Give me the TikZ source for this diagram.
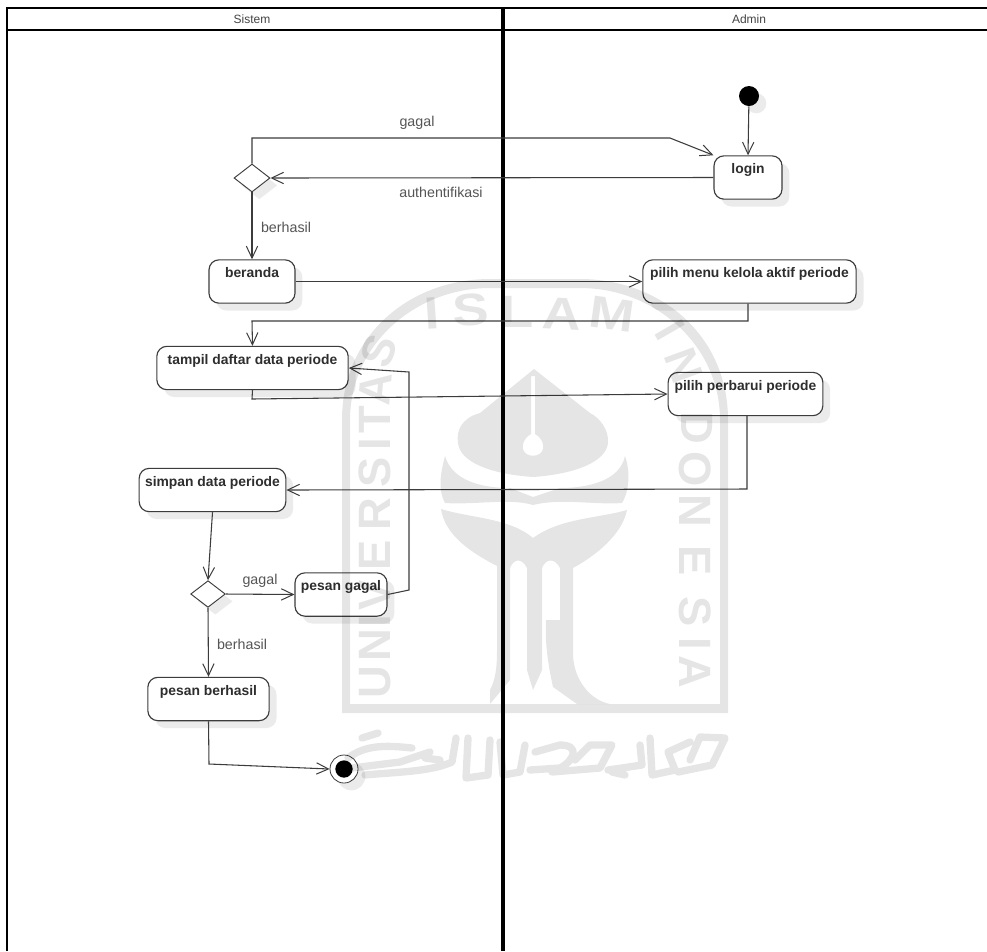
\documentclass[tikz,border=0pt]{standalone}
\usepackage{fontspec}
\setmainfont{Liberation Sans}
\usetikzlibrary{arrows.meta,shapes.geometric,shadows,calc}
\definecolor{edgec}{HTML}{3C3C3C}
\definecolor{labelc}{HTML}{555555}
\definecolor{boldc}{HTML}{2E2E2E}
\tikzset{
  softshadow/.style={drop shadow={shadow xshift=5.5pt,shadow yshift=-5.5pt,fill=black,opacity=.08}},
  act/.style={draw=edgec,line width=.85pt,fill=white,rectangle,rounded corners=7.5pt,softshadow,
    inner xsep=0pt,inner ysep=1pt,minimum height=32.5pt,text height=12.6pt,text depth=17.9pt,
    text=boldc,font=\fontsize{10.4}{12}\selectfont\bfseries},
  decision/.style={draw=edgec,line width=.7pt,fill=white,diamond,aspect=1.3,inner sep=0pt,softshadow},
  startdot/.style={circle,fill=black,inner sep=0pt,minimum size=15pt,softshadow},
  enddot/.style={circle,draw=edgec,line width=.6pt,fill=white,inner sep=0pt,minimum size=21pt,softshadow},
  flow/.style={draw=edgec,line width=.8pt,-{Straight Barb[length=9pt,width=8.5pt,line width=.75pt]}},
  flowlabel/.style={text=labelc,font=\fontsize{10.7}{12}\selectfont,inner sep=0pt},
  lanehead/.style={text=labelc!80!black,font=\fontsize{9}{10}\selectfont,inner sep=0pt},
  lane/.style={draw=black,line width=2pt},
  midlane/.style={draw=black,line width=2.6pt},
  wm/.style={fill=black,fill opacity=.1,draw=none},
  wmletter/.style={text=black,text opacity=.1,inner sep=0pt,font=\fontsize{34}{34}\selectfont\bfseries},
  wmstroke/.style={draw=black,draw opacity=.1,line width=5.5pt,line cap=round,line join=round}
}
\begin{document}
\begin{tikzpicture}[x=.75pt,y=-.75pt]
\useasboundingbox (0,0) rectangle (987,951);
\fill[white] (0,0) rectangle (987,951);

% swimlanes
\draw[lane] (7,951) -- (7,8) -- (987,8);
\draw[lane] (7,30) -- (987,30);
\draw[midlane] (503,8) -- (503,951);
\node[lanehead] (sistem) at (252,19) {Sistem};
\node[lanehead] (admin) at (749,19) {Admin};

% activities
\node[startdot] (start) at (749,96) {};
\node[act,minimum width=51pt] (login) at (748,177.5) {login};
\node[decision,minimum width=27pt,minimum height=21pt] (d1) at (252,178) {};
\node[act,minimum width=64.5pt] (beranda) at (252,281.5) {beranda};
\node[act,minimum width=160pt] (menu) at (749.5,281.5) {pilih menu kelola aktif periode};
\node[act,minimum width=143.5pt] (tampil) at (252.5,368) {tampil daftar data periode};
\node[act,minimum width=116pt] (perbarui) at (745.5,394) {pilih perbarui periode};
\node[act,minimum width=110pt] (simpan) at (212.5,490) {simpan data periode};
\node[act,minimum width=69pt] (pgagal) at (341,594.5) {pesan gagal};
\node[decision,minimum width=26pt,minimum height=20pt] (d2) at (208,594) {};
\node[act,minimum width=91pt] (pberhasil) at (208.5,699) {pesan berhasil};
\node[enddot] (stop) at (344,769) {};
\node[circle,fill=black,inner sep=0pt,minimum size=13pt] (stopdot) at (344,769) {};

% waypoints
\coordinate (w1) at (252,138);
\coordinate (w2) at (670,138);
\coordinate (w3) at (748,321);
\coordinate (w4) at (252,321);
\coordinate (w5) at (252,399);
\coordinate (w6) at (747,489);
\coordinate (w7) at (409,590);
\coordinate (w8) at (409,372);
\coordinate (w9) at (209,764);

% connectors
\draw[flow] (start) -- (login.north);
\draw[flow] (d1.north) -- (w1) -- (w2) -- (login.north west);
\draw[flow] (login.west) -- (d1.east);
\draw[flow] (d1.south) -- (beranda.north);
\draw[flow] (beranda.east) -- (menu.west);
\draw[flow] (menu.south -| w3) -- (w3) -- (w4) -- (tampil.north);
\draw[flow] (tampil.south) -- (w5) -- (perbarui.west);
\draw[flow] (perbarui.south -| w6) -- (w6) -- (simpan.east);
\draw[flow] (simpan.south) -- (d2.north);
\draw[flow] (d2.east) -- (pgagal.west);
\draw[flow] (pgagal.east) -- (w7) -- (w8) -- (tampil.east);
\draw[flow] (d2.south) -- (pberhasil.north);
\draw[flow] (pberhasil.south) -- (w9) -- (stop.west);

% connector labels
\node[flowlabel] (l1) at (417,123) {gagal};
\node[flowlabel] (l2) at (441,192) {authentifikasi};
\node[flowlabel] (l3) at (286,227) {berhasil};
\node[flowlabel] (l4) at (260,581) {gagal};
\node[flowlabel] (l5) at (242,644) {berhasil};

% watermark: arch frame
\path[wm,even odd rule]
  (342,713) -- (342,420) .. controls (342,335) and (410,279) .. (490,279)
  -- (580,279) .. controls (660,279) and (728,335) .. (728,420) -- (728,713) -- cycle
  (350,704) -- (350,420) .. controls (350,345) and (415,288) .. (490,288)
  -- (580,288) .. controls (655,288) and (720,345) .. (720,420) -- (720,704) -- cycle;

% watermark: emblem
\path[wm,even odd rule]
  (534,369) -- (480,413) .. controls (462,418) and (456,430) .. (458,443)
  .. controls (460,462) and (490,474) .. (533,477)
  .. controls (575,474) and (606,462) .. (608,443)
  .. controls (609,430) and (600,418) .. (590,413) -- cycle
  (531,376) -- (531,434) .. controls (524,438) and (522,444) .. (523,449)
  .. controls (525,458) and (541,458) .. (543,449)
  .. controls (544,444) and (542,438) .. (535,434) -- (535,376) -- cycle;
\path[wm]
  (445,456) .. controls (440,475) and (438,490) .. (445,503)
  .. controls (475,505) and (510,498) .. (533,505)
  .. controls (560,498) and (595,505) .. (622,503)
  .. controls (630,490) and (630,470) .. (625,456)
  .. controls (620,480) and (590,488) .. (560,488)
  -- (533,497) -- (510,488) .. controls (480,488) and (452,480) .. (445,456) -- cycle;
\path[wm]
  (441,509) .. controls (470,518) and (510,518) .. (533,538)
  .. controls (560,518) and (600,518) .. (627,510)
  .. controls (622,535) and (595,556) .. (573,568)
  -- (573,655) .. controls (574,680) and (590,700) .. (610,704)
  -- (577,704) -- (553,687) .. controls (547,660) and (545,640) .. (546,620)
  -- (560,620) -- (560,568) .. controls (555,558) and (546,558) .. (542,568)
  -- (542,670) -- (533,690) -- (527,670) -- (527,568)
  .. controls (522,558) and (514,558) .. (510,568) -- (510,680) -- (490,704)
  -- (490,690) .. controls (495,680) and (497,670) .. (497,650) -- (497,566)
  .. controls (470,552) and (445,535) .. (441,509) -- cycle;

% watermark: lettering
\foreach \c/\x/\y/\r [count=\i] in {U/375/682/90,N/375/645/90,I/375/621/90,V/375/595/90,E/375/555/90,R/375/514/90,S/375/472/90,I/375/444/90,T/375/420/90,A/375/389/85,S/379/351/70}
  \node[wmletter,rotate=\r] (wmu\i) at (\x,\y) {\c};
\foreach \c/\x/\y/\r [count=\i] in {I/432/313/4,S/471/310/3,L/517/312/0,A/562/314/-3,M/612/314/-8}
  \node[wmletter,rotate=\r,xscale=1.2,transform shape] (wmi\i) at (\x,\y) {\c};
\foreach \c/\x/\y/\r [count=\i] in {I/670/330/-60,N/684/366/-70,D/697/428/-90,O/695/469/-90,N/695/511/-90,E/695/561/-90,S/695/612/-90,I/695/644/-90,A/695/672/-90}
  \node[wmletter,rotate=\r] (wmn\i) at (\x,\y) {\c};

% watermark: calligraphy band
\path[wmstroke]
  (348,758) .. controls (365,745) and (385,745) .. (412,748)
  (362,738) -- (378,733)
  (352,768) -- (400,762) -- (430,752)
  (365,775) .. controls (395,772) and (430,772) .. (452,762) -- (456,738)
  (440,760) -- (425,758)
  (468,738) -- (466,778) -- (488,775) -- (490,740)
  (500,742) -- (503,775) -- (520,772) -- (525,745)
  (530,770) -- (560,768) .. controls (575,760) and (580,745) .. (560,745) -- (535,752)
  (552,772) -- (600,768) -- (612,745) -- (590,745) -- (575,760)
  (608,770) -- (642,765) -- (640,745)
  (625,775) -- (612,772)
  (650,738) -- (652,775) -- (675,770) -- (668,752) -- (690,742)
  (678,772) -- (712,765) -- (725,738) -- (700,737) -- (690,760);
\end{tikzpicture}
\end{document}
